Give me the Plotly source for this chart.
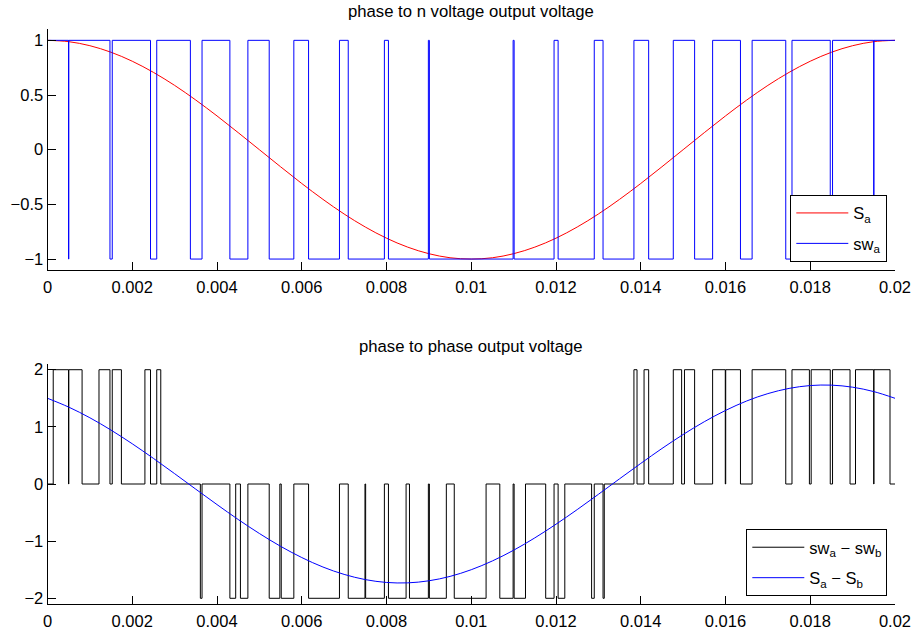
import plotly.graph_objects as go

# ---------------- data ----------------
t_smooth = [0.0, 0.0005, 0.001, 0.0015, 0.002, 0.0025, 0.003, 0.0035, 0.004, 0.0045,
            0.005, 0.0055, 0.006, 0.0065, 0.007, 0.0075, 0.008, 0.0085, 0.009, 0.0095,
            0.01, 0.0105, 0.011, 0.0115, 0.012, 0.0125, 0.013, 0.0135, 0.014, 0.0145,
            0.015, 0.0155, 0.016, 0.0165, 0.017, 0.0175, 0.018, 0.0185, 0.019, 0.0195, 0.02]

s_a = [1.000, 0.988, 0.951, 0.891, 0.809, 0.707, 0.588, 0.454, 0.309, 0.156,
       0.000, -0.156, -0.309, -0.454, -0.588, -0.707, -0.809, -0.891, -0.951, -0.988,
       -1.000, -0.988, -0.951, -0.891, -0.809, -0.707, -0.588, -0.454, -0.309, -0.156,
       0.000, 0.156, 0.309, 0.454, 0.588, 0.707, 0.809, 0.891, 0.951, 0.988, 1.000]

s_ab = [1.500, 1.346, 1.159, 0.943, 0.704, 0.448, 0.181, -0.091, -0.360, -0.621,
        -0.866, -1.090, -1.287, -1.453, -1.582, -1.673, -1.723, -1.730, -1.694, -1.617,
        -1.500, -1.346, -1.159, -0.943, -0.704, -0.448, -0.181, 0.091, 0.360, 0.621,
        0.866, 1.090, 1.287, 1.453, 1.582, 1.673, 1.723, 1.730, 1.694, 1.617, 1.500]

# switching signal sw_a : switching instants and level after each instant
swa_t = [0.0, 0.000497, 0.000503, 0.001474, 0.001528, 0.002431, 0.002578, 0.003372,
         0.003647, 0.004304, 0.004729, 0.005232, 0.005813, 0.006161, 0.006890, 0.007097,
         0.007950, 0.008046, 0.008988, 0.009012, 0.010988, 0.011012, 0.011954, 0.012050,
         0.012903, 0.013110, 0.013839, 0.014187, 0.014768, 0.015271, 0.015696, 0.016353,
         0.016628, 0.017422, 0.017569, 0.018472, 0.018526, 0.019497, 0.019503, 0.02]
swa_v = [1, -1, 1, -1, 1, -1, 1, -1,
         1, -1, 1, -1, 1, -1, 1, -1,
         1, -1, 1, -1, 1, -1, 1, -1,
         1, -1, 1, -1, 1, -1, 1, -1,
         1, -1, 1, -1, 1, -1, 1, 1]

# sw_a - sw_b : switching instants and level after each instant
dsw_t = [0.0, 0.000135, 0.000497, 0.000503, 0.000816, 0.001215, 0.001474, 0.001528,
         0.001744, 0.002299, 0.002431, 0.002578, 0.002673, 0.003607, 0.003647, 0.004304,
         0.004441, 0.004553, 0.004729, 0.005232, 0.005483, 0.005516, 0.005813, 0.006161,
         0.006890, 0.007097, 0.007492, 0.007508, 0.007950, 0.008046, 0.008462, 0.008542,
         0.008988, 0.009012, 0.009412, 0.009599, 0.010350, 0.010674, 0.010988, 0.011012,
         0.011280, 0.011757, 0.011954, 0.012050, 0.012208, 0.012840, 0.012903, 0.013110,
         0.013139, 0.013839, 0.013912, 0.014078, 0.014187, 0.014768, 0.014965, 0.015032,
         0.015271, 0.015696, 0.015995, 0.016005, 0.016353, 0.016628, 0.017422, 0.017569,
         0.017980, 0.018022, 0.018472, 0.018526, 0.018939, 0.019068, 0.019497, 0.019503,
         0.019882, 0.02]
dsw_v = [0, 2, 0, 2, 0, 2, 0, 2,
         0, 2, 0, 2, 0, -2, 0, -2,
         0, -2, 0, -2, 0, -2, 0, -2,
         0, -2, 0, -2, 0, -2, 0, -2,
         0, -2, 0, -2, 0, -2, 0, -2,
         0, -2, 0, -2, 0, -2, 0, -2,
         0, 2, 0, 2, 0, 2, 0, 2,
         0, 2, 0, 2, 0, 2, 0, 2,
         0, 2, 0, 2, 0, 2, 0, 2,
         0, 0]

x_ticks = [0, 0.002, 0.004, 0.006, 0.008, 0.01, 0.012, 0.014, 0.016, 0.018, 0.02]
x_tick_text = ["0", "0.002", "0.004", "0.006", "0.008", "0.01", "0.012", "0.014",
               "0.016", "0.018", "0.02"]
y1_ticks = [-1, -0.5, 0, 0.5, 1]
y1_tick_text = ["\u22121", "\u22120.5", "0", "0.5", "1"]
y2_ticks = [-2, -1, 0, 1, 2]
y2_tick_text = ["\u22122", "\u22121", "0", "1", "2"]

title_top = "phase to n voltage output voltage"
title_bottom = "phase to phase output voltage"

# ---------------- figure ----------------
W, H = 914, 632
FONT = "Liberation Sans, Arial, Helvetica, sans-serif"
FS = 16.5
FT = 16.7

fig = go.Figure()
fig.add_trace(go.Scatter(x=t_smooth, y=s_a, mode="lines", name="S<sub>a</sub>",
                         line=dict(color="#ff0000", width=1, shape="spline", smoothing=1),
                         xaxis="x", yaxis="y", legend="legend", legendgroup="g1"))
fig.add_trace(go.Scatter(x=swa_t, y=swa_v, mode="lines", name="sw<sub>a</sub>",
                         line=dict(color="#0000ff", width=1, shape="hv"),
                         xaxis="x", yaxis="y", legend="legend", legendgroup="g2"))
fig.add_trace(go.Scatter(x=dsw_t, y=dsw_v, mode="lines",
                         name="sw<sub>a</sub> \u2212 sw<sub>b</sub>",
                         line=dict(color="#000000", width=1, shape="hv"),
                         xaxis="x2", yaxis="y2", legend="legend2", legendgroup="g3"))
fig.add_trace(go.Scatter(x=t_smooth, y=s_ab, mode="lines",
                         name="S<sub>a</sub> \u2212 S<sub>b</sub>",
                         line=dict(color="#0000ff", width=1, shape="spline", smoothing=1),
                         xaxis="x2", yaxis="y2", legend="legend2", legendgroup="g4"))

ax = dict(showgrid=False, zeroline=False, showline=True, linecolor="black", linewidth=1,
          ticks="inside", ticklen=8, tickwidth=1, tickcolor="black", automargin=False,
          tickfont=dict(family=FONT, size=FS, color="black"), mirror=False)

xdom = [47.5 / W, 895 / W]
leg = dict(xanchor="right", yanchor="bottom", bordercolor="black", borderwidth=1,
           bgcolor="white", font=dict(family=FONT, size=FS, color="black"),
           itemwidth=52, tracegroupgap=6)
fig.update_layout(
    width=W, height=H, margin=dict(l=0, r=0, t=0, b=0),
    paper_bgcolor="white", plot_bgcolor="white",
    font=dict(family=FONT, size=FS, color="black"),
    xaxis=dict(ax, domain=xdom, range=[0, 0.02], tickvals=x_ticks, ticktext=x_tick_text,
               anchor="y", ticklabelstandoff=2),
    yaxis=dict(ax, domain=[(H - 270) / H, (H - 29.4) / H], range=[-1.1, 1.1],
               tickvals=y1_ticks, ticktext=y1_tick_text, anchor="x"),
    xaxis2=dict(ax, domain=xdom, range=[0, 0.02], tickvals=x_ticks, ticktext=x_tick_text,
                anchor="y2", ticklabelstandoff=2),
    yaxis2=dict(ax, domain=[(H - 604) / H, (H - 364) / H], range=[-2.1, 2.1],
                tickvals=y2_ticks, ticktext=y2_tick_text, anchor="x2"),
    legend=dict(leg, x=887.3 / W, y=(H - 261.7) / H),
    legend2=dict(leg, x=887.3 / W, y=(H - 596) / H),
    annotations=[
        dict(text=title_top, x=(xdom[0] + xdom[1]) / 2, y=(H - 12) / H, xref="paper",
             yref="paper", showarrow=False, xanchor="center", yanchor="middle",
             font=dict(family=FONT, size=FT, color="black")),
        dict(text=title_bottom, x=(xdom[0] + xdom[1]) / 2, y=(H - 346) / H, xref="paper",
             yref="paper", showarrow=False, xanchor="center", yanchor="middle",
             font=dict(family=FONT, size=FT, color="black")),
    ],
)

fig.write_html("out.html")
